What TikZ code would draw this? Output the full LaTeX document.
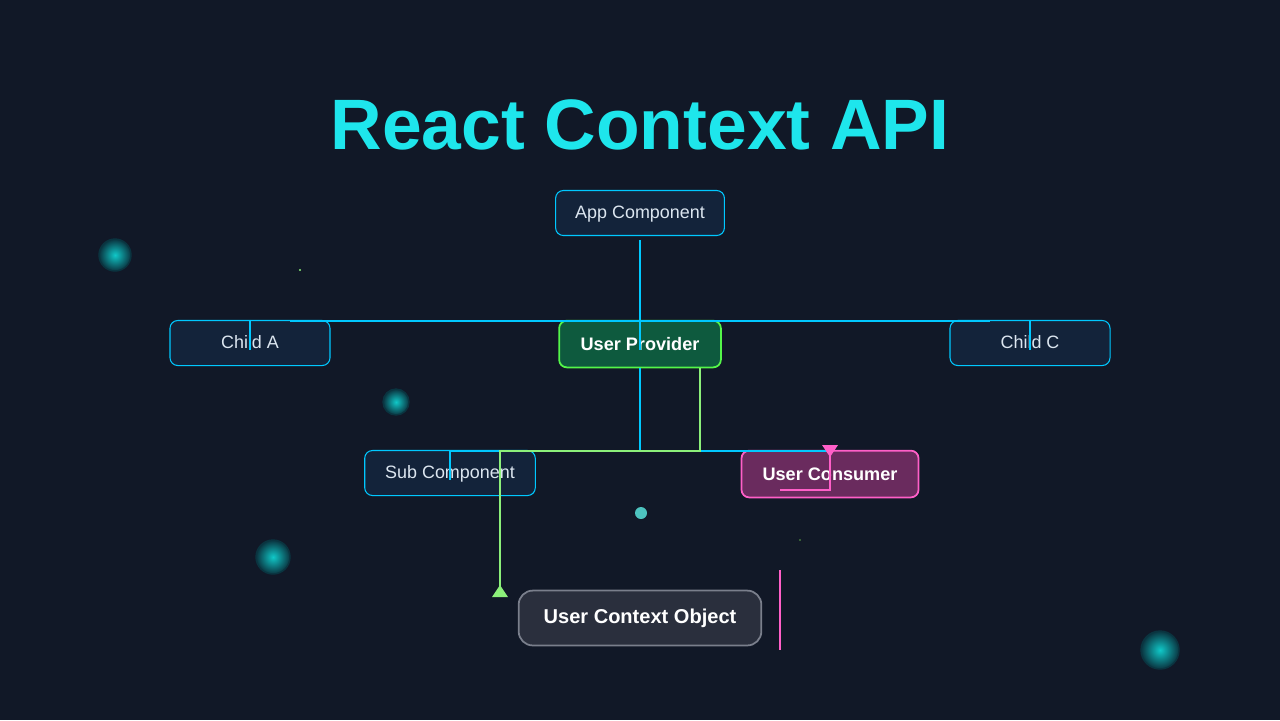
\documentclass[tikz,border=0pt]{standalone}
\usepackage{fontspec}
\setmainfont{Liberation Sans}
\usetikzlibrary{positioning}
\usetikzlibrary{arrows.meta}

\definecolor{bgdark}{HTML}{111827}
\definecolor{wirecyan}{HTML}{00C8FF}
\definecolor{wiregreen}{HTML}{8CF07A}
\definecolor{wirepink}{HTML}{FF5FC8}
\definecolor{boxfill}{HTML}{13233A}
\definecolor{provfill}{HTML}{0E5A3E}
\definecolor{consfill}{HTML}{6A2B5E}
\definecolor{ctxfill}{HTML}{2A2F3D}
\definecolor{ctxline}{HTML}{7A7F8C}
\definecolor{titlecyan}{HTML}{1EE6EC}
\definecolor{textlight}{HTML}{DCE6F0}
\definecolor{orbcore}{HTML}{10C8C8}
\definecolor{orbrim}{HTML}{0A3440}

\tikzset{
  comp/.style={draw=wirecyan,fill=boxfill,rounded corners=2.2pt,line width=0.3pt,
    text=textlight,font=\fontsize{5.1pt}{6pt}\selectfont,minimum height=12.8pt,
    inner xsep=5.5pt,text depth=0.3pt},
  hot/.style={rounded corners=2.2pt,line width=0.5pt,text=white,
    font=\bfseries\fontsize{5.15pt}{6pt}\selectfont,minimum height=13.3pt,inner xsep=6pt},
  wire/.style={line width=0.6pt},
  orb/.style={inner color=orbcore,outer color=orbrim,draw=orbrim,line width=0.4pt}
}

\begin{document}
\begin{tikzpicture}[x=0.01cm,y=-0.01cm]

  \fill[bgdark] (0,0) rectangle (1280,720);
  \useasboundingbox (0,0) rectangle (1280,720);

  % glowing orbs
  \shade[orb] (115,255) circle (16);
  \shade[orb] (396,402) circle (13);
  \shade[orb] (273,557) circle (17);
  \shade[orb] (1160,650) circle (19);
  \fill[cyan!60!green!70!white] (641,513) circle (6);
  \fill[wiregreen] (300,270) circle (1.2);
  \fill[wiregreen!50!black] (800,540) circle (1.2);

  \node[text=titlecyan,font=\bfseries\fontsize{20.3pt}{24pt}\selectfont] (title) at (640,125) {React Context API};

  \node[comp,minimum width=48pt] (app) at (640,213) {App Component};
  \node[comp,minimum width=45.5pt] (childA) at (250,343) {Child A};
  \node[hot,draw=wiregreen!60!green,fill=provfill,minimum width=46pt] (prov) at (640,344) {User Provider};
  \node[comp,minimum width=45.5pt] (childC) at (1030,343) {Child C};
  \node[comp,minimum width=48.5pt] (sub) at (450,473) {Sub Component};
  \node[hot,draw=wirepink,fill=consfill,minimum width=50pt] (cons) at (830,474) {User Consumer};
  \node[hot,draw=ctxline,fill=ctxfill,rounded corners=4pt,minimum width=69pt,minimum height=15.6pt,
    font=\bfseries\fontsize{5.7pt}{7pt}\selectfont] (ctx) at (640,618) {User Context Object};

  \coordinate (busL) at (290,321);
  \coordinate (busR) at (990,321);
  \coordinate (lowL) at (450,451);
  \coordinate (lowR) at (830,451);
  \coordinate (gTop) at (700,451);
  \coordinate (gEnd) at (500,451);
  \coordinate (gTip) at (500,592);
  \coordinate (pDrop) at (830,490);
  \coordinate (pEnd) at (780,490);
  \coordinate (sTop) at (780,570);
  \coordinate (sBot) at (780,650);

  \draw[wire,wirecyan] (app.south) ++(0,4) -- (640,350);
  \draw[wire,wirecyan] (busL) -- (busR);
  \draw[wire,wirecyan] (childA.north) -- (250,350);
  \draw[wire,wirecyan] (childC.north) -- (1030,350);
  \draw[wire,wirecyan] (prov.south) -- (640,451);
  \draw[wire,wirecyan] (lowL) -- (lowR);
  \draw[wire,wirecyan] (lowL) -- (450,480);

  \draw[wire,wiregreen] (prov.south -| gTop) -- (gTop) -- (gEnd) -- (gTip);
  \fill[wiregreen] (492,597) -- (508,597) -- (500,585) -- cycle;

  \draw[wire,wirepink] (lowR) ++(0,-4) -- (pDrop) -- (pEnd);
  \fill[wirepink] (822,445) -- (838,445) -- (830,457) -- cycle;
  \draw[wire,wirepink] (sTop) -- (sBot);

\end{tikzpicture}
\end{document}
